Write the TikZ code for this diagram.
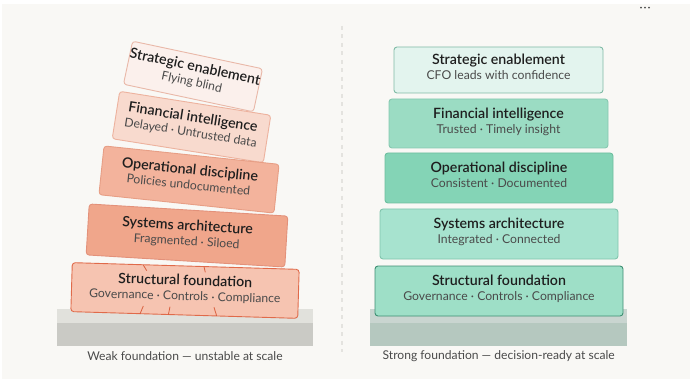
\documentclass[tikz,border=0pt]{standalone}
\usepackage{fontspec}
\setmainfont{Lato}[BoldFont={Lato Semibold}]
\definecolor{bgc}{HTML}{F9F8F5}
\definecolor{titc}{HTML}{1E1E1E}
\definecolor{subc}{HTML}{4A4A4A}
\definecolor{divc}{HTML}{E4E3DF}
% left (warm) palette
\definecolor{lAfill}{HTML}{FBF0EC}\definecolor{lAdraw}{HTML}{E9B8A8}
\definecolor{lBfill}{HTML}{F8DACE}\definecolor{lBdraw}{HTML}{EDB29E}
\definecolor{lCfill}{HTML}{F3B39C}\definecolor{lCdraw}{HTML}{E79E85}
\definecolor{lDfill}{HTML}{F0A68B}\definecolor{lDdraw}{HTML}{E3917A}
\definecolor{lEfill}{HTML}{F6C4B1}\definecolor{lEdraw}{HTML}{E06A4A}
% right (green) palette
\definecolor{rAfill}{HTML}{E3F4EE}\definecolor{rAdraw}{HTML}{80BBA6}
\definecolor{rBfill}{HTML}{9BDCC3}\definecolor{rBdraw}{HTML}{87C8B0}
\definecolor{rCfill}{HTML}{84D4B6}\definecolor{rCdraw}{HTML}{6EBF9F}
\definecolor{rDfill}{HTML}{A7E3CF}\definecolor{rDdraw}{HTML}{82C5AD}
\definecolor{rEfill}{HTML}{9EDFC7}\definecolor{rEdraw}{HTML}{3E8F73}
% ground
\definecolor{gLtop}{HTML}{E1E1DC}\definecolor{gLbot}{HTML}{CACAC5}
\definecolor{gRtop}{HTML}{C9D5D0}\definecolor{gRbot}{HTML}{B5C8BF}
\definecolor{crackc}{HTML}{D9603F}
\begin{document}
\begin{tikzpicture}[x=1pt,y=-1pt,
  layer/.style={draw, line width=0.9pt, rounded corners=3pt, inner sep=0pt, align=center, text=titc},
  capt/.style={font=\fontsize{12.1}{14}\selectfont, text=subc},
  crack/.style={draw=crackc, line width=0.8pt}]
\newcommand{\lay}[2]{{\fontsize{14.2}{15}\selectfont\bfseries #1}\\[3pt]{\fontsize{12.2}{15}\selectfont\color{subc}#2\rule[-6pt]{0pt}{6pt}}}
\useasboundingbox (0,0) rectangle (690,379);
\fill[white] (0,0) rectangle (690,379);
\fill[bgc] (2,4) rectangle (690,379);
% divider
\draw[divc, line width=1.2pt, dash pattern=on 4pt off 4.5pt] (342,26) -- (342,352);
% dots
\foreach \dx in {-4,0,4} \fill[black!70] (645+\dx,7.7) circle (1pt);
% ground left
\fill[gLtop] (57,309) rectangle (313,323);
\fill[gLbot] (57,323) rectangle (313,346);
% ground right
\fill[gRtop] (370,309) rectangle (627,323);
\fill[gRbot] (370,323) rectangle (627,346);
% left stack
\node[layer, fill=lAfill, draw=lAdraw, minimum width=131pt, minimum height=44pt, rotate=-12] (lA) at (193,76.5) {\lay{Strategic enablement}{Flying blind}};
\node[layer, fill=lBfill, draw=lBdraw, minimum width=153pt, minimum height=48pt, rotate=-9] (lB) at (191.5,127) {\lay{Financial intelligence}{Delayed · Untrusted data}};
\node[layer, fill=lCfill, draw=lCdraw, minimum width=176pt, minimum height=49pt, rotate=-6] (lC) at (189,179.5) {\lay{Operational discipline}{Policies undocumented}};
\node[layer, fill=lDfill, draw=lDdraw, minimum width=199pt, minimum height=51pt, rotate=-3.5] (lD) at (187,235.5) {\lay{Systems architecture}{Fragmented · Siloed}};
\node[layer, fill=lEfill, draw=lEdraw, minimum width=227pt, minimum height=49pt, rotate=-1.7] (lE) at (185,290.5) {\lay{Structural foundation}{Governance · Controls · Compliance}};
% cracks
\draw[crack] (143.3,265) -- (146.7,270.7);
\draw[crack] (204,266.7) -- (205.3,272.3);
\draw[crack] (143.3,306) -- (140,314);
\draw[crack] (170,306.7) -- (168.3,315);
\draw[crack] (214,307.3) -- (216.7,316);
% right stack
\node[layer, fill=rAfill, draw=rAdraw, minimum width=209pt, minimum height=46pt] (rA) at (498.5,70) {\lay{Strategic enablement}{CFO leads with confidence}};
\node[layer, fill=rBfill, draw=rBdraw, minimum width=219pt, minimum height=49pt] (rB) at (498.5,123.5) {\lay{Financial intelligence}{Trusted · Timely insight}};
\node[layer, fill=rCfill, draw=rCdraw, minimum width=228pt, minimum height=50pt] (rC) at (499,178) {\lay{Operational discipline}{Consistent · Documented}};
\node[layer, fill=rDfill, draw=rDdraw, minimum width=238pt, minimum height=50pt] (rD) at (499,234) {\lay{Systems architecture}{Integrated · Connected}};
\node[layer, fill=rEfill, draw=rEdraw, minimum width=248pt, minimum height=50pt] (rE) at (499,291) {\lay{Structural foundation}{Governance · Controls · Compliance}};
% captions
\node[capt] (capL) at (185,355.7) {Weak foundation — unstable at scale};
\node[capt] (capR) at (498.7,355.7) {Strong foundation — decision-ready at scale};
\end{tikzpicture}
\end{document}
